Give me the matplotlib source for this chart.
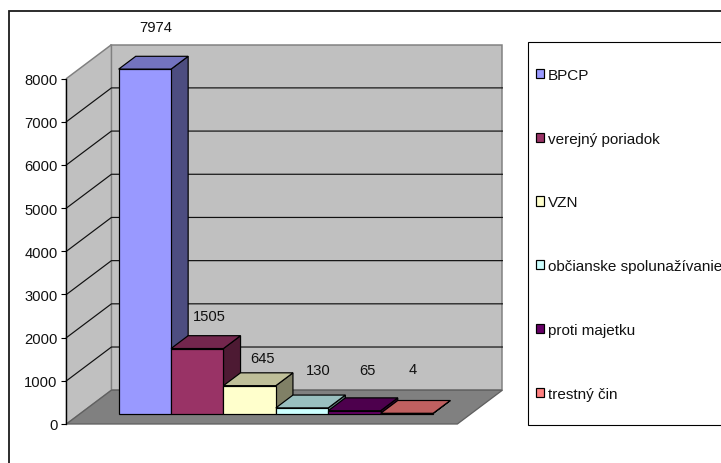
import matplotlib

matplotlib.use('Agg')

import matplotlib.pyplot as plt
from matplotlib.patches import Patch, Polygon, Rectangle

plt.rcParams.update({
    'font.family': ['Liberation Sans', 'DejaVu Sans'],
    'font.size': 10.6,
})

categories = ['BPCP', 'verejný poriadok', 'VZN', 'občianske spolunažívanie', 'proti majetku', 'trestný čin']
values = [7974, 1505, 645, 130, 65, 4]
y_ticks = [0, 1000, 2000, 3000, 4000, 5000, 6000, 7000, 8000]

front_colors = ['#9999FF', '#993366', '#FFFFCC', '#CCFFFF', '#660066', '#FF8080']
top_colors = ['#7373BF', '#73264D', '#BFBF99', '#99BFBF', '#4D004D', '#BF6060']
side_colors = ['#4D4D80', '#4D1A33', '#808066', '#668080', '#330033', '#804040']

# hand placed data labels in the original, offset from bar top in px
label_dx = [11, 12, 13, 16, 13, 6]
label_dy = [42, 33, 28, 38, 41, 44]

W, H = 721, 464
PX = 0.72  # 1 px in points at dpi 100

# pixel scales of the oblique view
x_px = 52.4
y_px = 345.5 / 8000
x0_px = 104.7
y0_px = 425.0
depth_x = 45 / x_px
depth_y = 33.8 / y_px
floor_l, floor_r = -0.73, 6.73
bar_z0, bar_z1 = 0.31, 0.69


def proj(x, v, z):
    return (x + z * depth_x, v + z * depth_y)


fig = plt.figure(figsize=(W / 100, H / 100), dpi=100)
ax = fig.add_axes([0, 0, 1, 1])
ax.set_xlim(-x0_px / x_px, (W - x0_px) / x_px)
ax.set_ylim((y0_px - H) / y_px, y0_px / y_px)
ax.patch.set_visible(False)

# outer chart frame, runs off the picture
fig.add_artist(Rectangle((8.5 / W, -0.1), 1.2, 1.1 - 11.5 / H, transform=fig.transFigure,
                         fc='white', ec='#1a1a1a', lw=1.8 * PX, zorder=-5))

# walls and floor
top = y_ticks[-1]
ax.add_patch(Polygon([proj(floor_l, 0, 1), proj(floor_r, 0, 1), proj(floor_r, top, 1), proj(floor_l, top, 1)],
                     fc='#C0C0C0', ec='#808080', lw=1.5 * PX))
ax.add_patch(Polygon([proj(floor_l, 0, 0), proj(floor_l, 0, 1), proj(floor_l, top, 1), proj(floor_l, top, 0)],
                     fc='#C0C0C0', ec='#808080', lw=1.5 * PX))
ax.add_patch(Polygon([proj(floor_l, 0, 0), proj(floor_r, 0, 0), proj(floor_r, 0, 1), proj(floor_l, 0, 1)],
                     fc='#808080', ec='#606060', lw=1.3 * PX))

# gridlines on left wall and back wall
for t in y_ticks[1:-1]:
    pts = [proj(floor_l, t, 0), proj(floor_l, t, 1), proj(floor_r, t, 1)]
    ax.plot([p[0] for p in pts], [p[1] for p in pts], color='#111111', lw=1.2 * PX, zorder=2)

# bars, left to right so each one covers the side of the one before
for i, val in enumerate(values):
    l, r = i, i + 1
    front = [proj(l, 0, bar_z0), proj(r, 0, bar_z0), proj(r, val, bar_z0), proj(l, val, bar_z0)]
    roof = [proj(l, val, bar_z0), proj(r, val, bar_z0), proj(r, val, bar_z1), proj(l, val, bar_z1)]
    side = [proj(r, 0, bar_z0), proj(r, 0, bar_z1), proj(r, val, bar_z1), proj(r, val, bar_z0)]
    z = 3 + i
    ax.add_patch(Polygon(side, fc=side_colors[i], ec='black', lw=1.2 * PX, zorder=z))
    ax.add_patch(Polygon(roof, fc=top_colors[i], ec='black', lw=1.2 * PX, zorder=z))
    ax.add_patch(Polygon(front, fc=front_colors[i], ec='black', lw=1.2 * PX, zorder=z))
    ax.annotate(str(val), xy=proj(i + 0.5, val, bar_z0),
                xytext=(label_dx[i] * PX, label_dy[i] * PX), textcoords='offset points',
                ha='center', va='center', color='#111111', zorder=20)

# value axis on the front edge of the left wall
for name in ['top', 'right', 'bottom']:
    ax.spines[name].set_visible(False)
ax.spines['left'].set_position(('data', floor_l))
ax.spines['left'].set_bounds(0, top)
ax.spines['left'].set_linewidth(1.3 * PX)
ax.spines['left'].set_zorder(10)
ax.set_xticks([])
ax.set_yticks(y_ticks)
ax.tick_params(axis='y', length=5.5 * PX, width=1.1 * PX, pad=3.5 * PX, labelcolor='#111111')

# legend box runs off the right side as well
fig.add_artist(Rectangle((528.3 / W, 1 - 425.7 / H), 0.5, (425.7 - 42.7) / H, transform=fig.transFigure,
                         fc='white', ec='black', lw=1.1 * PX, zorder=-4))
handles = [Patch(fc=c, ec='black', lw=1.2 * PX) for c in front_colors]
ax.legend(handles, categories, loc='upper left', bbox_to_anchor=(535.5 / W, 1 - 69 / H),
          bbox_transform=fig.transFigure, frameon=False, borderpad=0, borderaxespad=0,
          labelspacing=3.255, handlelength=0.56, handleheight=0.56, handletextpad=0.26,
          labelcolor='#111111', fontsize=11)

fig.savefig('out.png', dpi=100)
